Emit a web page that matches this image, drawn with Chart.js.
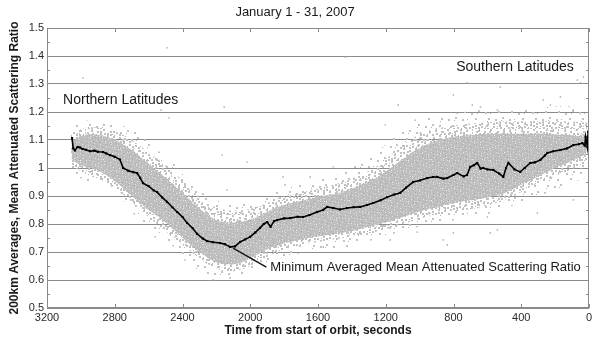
<!DOCTYPE html>
<html><head><meta charset="utf-8">
<script src="https://cdn.jsdelivr.net/npm/chart.js@4/dist/chart.umd.min.js"></script>
<style>html,body{margin:0;padding:0;background:#fff}#wrap{width:593px;height:341px}</style>
</head><body><div id="wrap"><canvas id="c" width="593" height="341"></canvas></div>
<script>
// ---------- data ----------
const titleText = 'January 1 - 31, 2007';
const xTitle = 'Time from start of orbit, seconds';
const yTitle = '200km Averages, Mean Attenuated Scattering Ratio';
const xTicks = [0, 400, 800, 1200, 1600, 2000, 2400, 2800, 3200];
const xTickLabels = ['0', '400', '800', '1200', '1600', '2000', '2400', '2800', '3200'];
const yTicks = [0.5, 0.6, 0.7, 0.8, 0.9, 1.0, 1.1, 1.2, 1.3, 1.4, 1.5];
const yTickLabels = ['0.5', '0.6', '0.7', '0.8', '0.9', '1', '1.1', '1.2', '1.3', '1.4', '1.5'];
const yMinorTicks = [0.55, 0.65, 0.75, 0.85, 0.95, 1.05, 1.15, 1.25, 1.35, 1.45];

// 200 km averages (black line)
const avgTime = [3052,3045,3035,3020,3005,2990,2970,2946,2920,2900,2869,2850,2828,2800,2769,2751,2720,2690,2668,2650,2633,2600,2570,2550,2520,2491,2460,2432,2400,2373,2340,2314,2280,2255,2220,2178,2150,2119,2090,2060,2030,2001,1970,1942,1920,1900,1880,1860,1841,1800,1764,1720,1688,1650,1605,1570,1546,1510,1470,1428,1390,1351,1310,1274,1230,1191,1150,1115,1080,1038,1000,955,920,896,860,837,800,778,740,720,701,680,660,640,624,600,565,530,506,490,476,440,406,380,347,320,287,260,246,210,169,130,92,60,39,25,20,10,5];
const avgRatio = [1.107,1.070,1.063,1.075,1.073,1.068,1.065,1.060,1.062,1.058,1.057,1.052,1.046,1.040,1.030,1.000,0.990,0.985,0.982,0.965,0.946,0.935,0.920,0.914,0.895,0.879,0.860,0.843,0.825,0.804,0.785,0.765,0.748,0.739,0.735,0.732,0.728,0.718,0.720,0.736,0.745,0.754,0.770,0.786,0.800,0.807,0.790,0.810,0.814,0.820,0.821,0.826,0.825,0.832,0.843,0.850,0.861,0.857,0.852,0.857,0.860,0.861,0.868,0.875,0.885,0.896,0.905,0.911,0.930,0.950,0.955,0.964,0.968,0.968,0.962,0.964,0.975,0.982,0.970,0.975,1.004,1.010,1.018,0.998,1.000,0.995,0.993,0.980,0.968,1.000,1.018,0.995,0.986,1.000,1.018,1.020,1.029,1.045,1.054,1.060,1.064,1.070,1.082,1.085,1.089,1.080,1.111,1.075,1.130];

// dense part of the individual-profile cloud (upper / lower edge)
const coreTime  = [3055,3000,2916,2850,2780,2700,2620,2540,2460,2380,2300,2207,2120,2040,1960,1880,1800,1700,1600,1500,1400,1300,1200,1100,1000,900,800,700,600,500,400,300,200,100,15];
const coreUpper = [1.095,1.115,1.120,1.112,1.095,1.065,1.025,0.985,0.945,0.900,0.855,0.815,0.805,0.810,0.825,0.850,0.868,0.882,0.897,0.907,0.927,0.952,0.987,1.032,1.072,1.097,1.112,1.117,1.122,1.122,1.122,1.122,1.120,1.117,1.112];
const coreLower = [1.030,1.010,0.995,0.975,0.945,0.900,0.860,0.825,0.785,0.740,0.700,0.665,0.655,0.665,0.690,0.715,0.730,0.745,0.755,0.765,0.775,0.790,0.805,0.825,0.845,0.860,0.875,0.885,0.895,0.910,0.940,0.970,1.000,1.025,1.050];

// medium-density fringe of the cloud
const fringeTime  = [3060,2960,2850,2740,2620,2500,2380,2260,2140,2040,1940,1820,1700,1560,1400,1240,1100,960,800,640,480,320,160,10];
const fringeUpper = [1.125,1.145,1.140,1.115,1.065,1.010,0.945,0.875,0.850,0.850,0.865,0.895,0.912,0.932,0.962,1.012,1.082,1.132,1.152,1.162,1.167,1.167,1.167,1.162];
const fringeLower = [1.010,0.975,0.950,0.900,0.835,0.775,0.715,0.660,0.630,0.640,0.670,0.705,0.725,0.740,0.755,0.775,0.800,0.825,0.845,0.860,0.890,0.940,0.980,1.020];

// sparse outer edge of the cloud
const spreadTime  = [3065,2960,2800,2680,2560,2440,2326,2207,2089,2001,1823,1646,1469,1292,1132,1000,742,565,387,210,8];
const spreadUpper = [1.15,1.17,1.16,1.13,1.07,1.01,0.93,0.89,0.88,0.88,0.92,0.95,0.98,1.04,1.12,1.17,1.20,1.21,1.21,1.22,1.22];
const spreadLower = [0.99,0.95,0.92,0.83,0.78,0.71,0.64,0.61,0.61,0.63,0.68,0.70,0.71,0.74,0.77,0.79,0.82,0.84,0.88,0.92,0.97];

// isolated profiles away from the cloud
const outlierTime  = [2491,2987,2526,2479,2154,2166,2018,1806,1440,1126,801,641,270,33,51,778,541,1510,1646,1014,837,1174,1569,541,600,2219,2119,2385,1794,2137,2562,1203,1026,996,719,689,524,228,69,860,801,583,305,92,92,169];
const outlierRatio = [1.429,1.321,1.207,1.179,1.218,1.046,1.021,0.968,1.396,1.225,1.261,1.218,1.243,1.325,1.304,1.196,1.207,1.004,0.968,0.771,0.725,0.743,0.718,0.779,0.825,0.600,0.607,0.671,0.939,0.921,0.754,1.154,1.171,1.125,1.304,1.225,1.289,1.225,1.314,0.743,0.768,0.768,0.839,0.886,1.207,1.254];

// annotation texts and their anchor (data units)
const noteNorth = {text: 'Northern Latitudes', t: 3105, v: 1.243};
const noteSouth = {text: 'Southern Latitudes', t: 784, v: 1.361};
const noteMin = {text: 'Minimum Averaged Mean Attenuated Scattering Ratio', t: 1905, v: 0.646, fromT: 2101, fromV: 0.714};

// ---------- styling helpers (textures, not data) ----------
function frac(v) { return v - Math.floor(v); }
function texture(size, base, layers) {
  const c = document.createElement('canvas');
  c.width = size; c.height = size;
  const g = c.getContext('2d');
  if (base) { g.fillStyle = base; g.fillRect(0, 0, size, size); }
  layers.forEach(L => {
    g.fillStyle = L.color;
    for (let i = 1; i <= L.count; i++) {
      // R2 low-discrepancy sequence: an even, irregular-looking dot layout
      const px = Math.floor(frac(L.seed + i * 0.7548776662) * size);
      const py = Math.floor(frac(L.seed * 0.5 + i * 0.5698402910) * size);
      g.fillRect(px, py, L.w, L.w);
    }
  });
  return g.createPattern(c, 'repeat');
}
const corePattern = texture(41, '#bfbfbf', [
  {count: 110, color: '#e2e2e2', w: 1, seed: 0.13},
  {count: 35, color: '#f2f2f2', w: 1, seed: 0.41},
  {count: 80, color: '#a9a9a9', w: 1, seed: 0.77}
]);
const fringePattern = texture(43, null, [
  {count: 120, color: '#c0c0c0', w: 2, seed: 0.29},
  {count: 45, color: '#b6b6b6', w: 1, seed: 0.61}
]);
const spreadPattern = texture(47, null, [
  {count: 36, color: '#c2c2c2', w: 2, seed: 0.53},
  {count: 16, color: '#b3b3b3', w: 1, seed: 0.87}
]);

const pts = (ts, vs) => ts.map((t, i) => ({x: t, y: vs[i]}));

const decor = {
  id: 'decor',
  beforeDraw(chart) {
    const ctx = chart.ctx;
    ctx.save(); ctx.fillStyle = '#fff'; ctx.fillRect(0, 0, chart.width, chart.height); ctx.restore();
  },
  afterDraw(chart) {
    const {ctx, chartArea: a, scales: {x, y}} = chart;
    ctx.save();
    ctx.strokeStyle = '#8a8a8a'; ctx.lineWidth = 1;
    ctx.strokeRect(a.left + 0.5, a.top + 0.5, a.right - a.left - 1, a.bottom - a.top - 1);
    ctx.beginPath();
    xTicks.forEach(t => {
      const px = Math.round(x.getPixelForValue(t)) + 0.5;
      ctx.moveTo(px, a.bottom); ctx.lineTo(px, a.bottom - 4);
      ctx.moveTo(px, a.top); ctx.lineTo(px, a.top + 4);
    });
    yMinorTicks.forEach(v => {
      const py = Math.round(y.getPixelForValue(v)) + 0.5;
      ctx.moveTo(a.left, py); ctx.lineTo(a.left + 3, py);
      ctx.moveTo(a.right, py); ctx.lineTo(a.right - 3, py);
    });
    ctx.stroke();
    // annotations
    ctx.fillStyle = '#1a1a1a';
    ctx.textBaseline = 'middle'; ctx.textAlign = 'left';
    ctx.font = '14px "Liberation Sans", Arial, sans-serif';
    ctx.fillText(noteNorth.text, x.getPixelForValue(noteNorth.t), y.getPixelForValue(noteNorth.v));
    ctx.fillText(noteSouth.text, x.getPixelForValue(noteSouth.t), y.getPixelForValue(noteSouth.v));
    ctx.font = '13px "Liberation Sans", Arial, sans-serif';
    ctx.fillText(noteMin.text, x.getPixelForValue(noteMin.t) + 4, y.getPixelForValue(noteMin.v));
    ctx.strokeStyle = '#111'; ctx.lineWidth = 1.3;
    ctx.beginPath();
    ctx.moveTo(x.getPixelForValue(noteMin.fromT), y.getPixelForValue(noteMin.fromV));
    ctx.lineTo(x.getPixelForValue(noteMin.t), y.getPixelForValue(noteMin.v));
    ctx.stroke();
    ctx.restore();
  }
};

const fontFam = '"Liberation Sans", Arial, sans-serif';
const band = (order, ts, vs, fillTarget, bg) => ({
  data: pts(ts, vs), order, borderWidth: 0, pointRadius: 0, tension: 0.3,
  fill: fillTarget === null ? false : fillTarget, backgroundColor: bg || 'transparent'
});

new Chart(document.getElementById('c'), {
  type: 'line',
  data: {
    datasets: [
      {label: 'avg', data: pts(avgTime, avgRatio), order: 0, borderColor: '#000', borderWidth: 1.6,
       pointRadius: 1.5, pointStyle: 'rect', pointBackgroundColor: '#000', pointBorderWidth: 0, tension: 0, fill: false},
      {label: 'outliers', data: pts(outlierTime, outlierRatio), order: 1, showLine: false,
       pointRadius: 1, pointStyle: 'rect', pointBackgroundColor: '#a6a6a6', pointBorderWidth: 0},
      band(2, coreTime, coreLower, null),
      band(3, coreTime, coreUpper, 2, corePattern),
      band(4, fringeTime, fringeLower, null),
      band(5, fringeTime, fringeUpper, 4, fringePattern),
      band(6, spreadTime, spreadLower, null),
      band(7, spreadTime, spreadUpper, 6, spreadPattern)
    ]
  },
  options: {
    responsive: false, animation: false, devicePixelRatio: 1,
    layout: {padding: {left: 0, right: 3, top: 0, bottom: 0}},
    plugins: {
      legend: {display: false}, tooltip: {enabled: false},
      title: {display: true, text: titleText, color: '#1a1a1a',
              font: {family: fontFam, size: 13, weight: 'normal', lineHeight: 1.2}, padding: {top: 5, bottom: 7.4}}
    },
    scales: {
      x: {
        type: 'linear', reverse: true, min: 0, max: 3200,
        afterBuildTicks: s => { s.ticks = xTicks.map(v => ({value: v})); },
        afterFit: s => { s.height = 33; },
        ticks: {callback: (v) => xTickLabels[xTicks.indexOf(v)], color: '#2a2a2a', font: {family: fontFam, size: 11}, padding: 3, maxRotation: 0, autoSkip: false},
        grid: {display: false, drawTicks: false},
        border: {display: false},
        title: {display: true, text: xTitle, color: '#1a1a1a', font: {family: fontFam, size: 12, weight: 'bold', lineHeight: 1.2}, padding: {top: 0, bottom: 3}}
      },
      y: {
        type: 'linear', min: 0.5, max: 1.5,
        afterBuildTicks: s => { s.ticks = yTicks.map(v => ({value: v})); },
        afterFit: s => { s.width = 47; },
        ticks: {callback: (v, i) => yTickLabels[i], color: '#2a2a2a', font: {family: fontFam, size: 11}, padding: 3, autoSkip: false},
        grid: {color: '#8c8c8c', lineWidth: 1, drawTicks: false},
        border: {display: false},
        title: {display: true, text: yTitle, color: '#1a1a1a', font: {family: fontFam, size: 12, weight: 'bold', lineHeight: 1.2}, padding: {top: 7, bottom: 0}}
      }
    }
  },
  plugins: [decor]
});
</script>
</body></html>
